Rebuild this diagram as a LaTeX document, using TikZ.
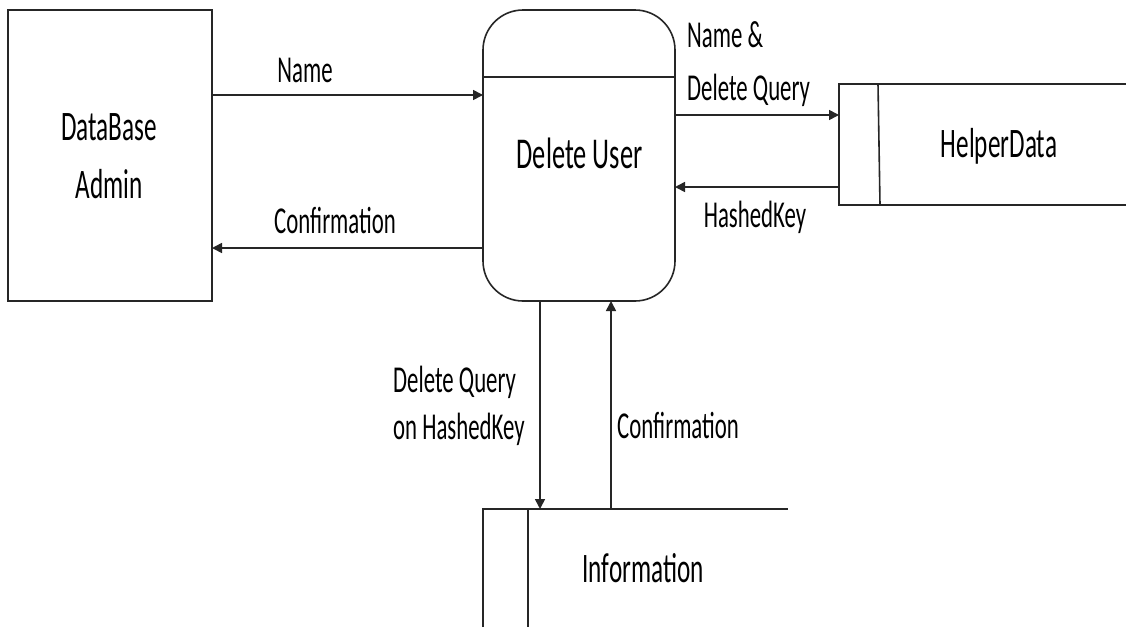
\documentclass[tikz,border=0pt]{standalone}
\usepackage{fontspec}
\setmainfont{Carlito}[FakeStretch=0.6]
\usetikzlibrary{arrows.meta}
\begin{document}
\begin{tikzpicture}[x=1pt,y=-1pt,
  line/.style={draw=black!85, line width=1.6pt},
  flow/.style={line, -{Triangle[length=10pt,width=10pt]}},
  area/.style={inner sep=0pt, outer sep=0pt},
  bigtext/.style={font=\fontsize{42}{58}\selectfont, inner sep=0pt, anchor=base},
  smalltext/.style={font=\fontsize{38}{53}\selectfont, inner sep=0pt, anchor=base}]
\fill[white] (0,0) rectangle (1126,627);
\useasboundingbox (0,0) rectangle (1126,627);

% external entity
\node[line, area, minimum width=204, minimum height=291] (admin) at (110,155.5) {};
\node[bigtext] (adminT) at (109,140) {\begin{tabular}[t]{@{}c@{}}DataBase\\Admin\end{tabular}};

% process
\node[line, area, rounded corners=40, minimum width=192, minimum height=291] (du) at (579,155.5) {};
\draw[line] (du.west |- 0,77) -- (du.east |- 0,77);
\node[bigtext, font=\fontsize{44}{50}\selectfont] (duT) at (579.5,168) {Delete User};

% data store: HelperData (open on the right)
\node[area, minimum width=287, minimum height=121] (hd) at (982.5,144.5) {};
\draw[line] (hd.north east) -- (hd.north west) -- (hd.south west) -- (hd.south east);
\draw[line] ([xshift=39]hd.north west) -- ([xshift=41]hd.south west);
\node[bigtext] (hdT) at (999,157) {HelperData};

% data store: Information (open at the right and bottom)
\node[area, minimum width=305, minimum height=118] (info) at (635.5,568) {};
\draw[line] (info.south west) -- (info.north west) -- (info.north east);
\draw[line] ([xshift=45]info.north west) -- ([xshift=45]info.south west);
\node[bigtext] (infoT) at (643,582) {Information};

% data flows
\draw[flow] (admin.east |- 0,95) -- (du.west |- 0,95);
\draw[flow] (du.west |- 0,248) -- (admin.east |- 0,248);
\draw[flow] (du.east |- 0,115) -- (hd.west |- 0,115);
\draw[flow] (hd.west |- 0,187) -- (du.east |- 0,187);
\draw[flow] (du.south -| 540,0) -- (info.north -| 540,0);
\draw[flow] (info.north -| 611,0) -- (du.south -| 611,0);

% flow labels
\node[smalltext] (lName) at (305,82) {Name};
\node[smalltext] (lConfA) at (335,233) {Confirmation};
\node[smalltext, anchor=base west] (lQuery) at (687,47) {\begin{tabular}[t]{@{}l@{}}Name \&\\Delete Query\end{tabular}};
\node[smalltext] (lKey) at (755,227) {HashedKey};
\node[smalltext, font=\fontsize{38}{47}\selectfont, anchor=base west] (lDel) at (393,392) {\begin{tabular}[t]{@{}l@{}}Delete Query\\on HashedKey\end{tabular}};
\node[smalltext, anchor=base west] (lConfB) at (617,438) {Confirmation};
\end{tikzpicture}
\end{document}
